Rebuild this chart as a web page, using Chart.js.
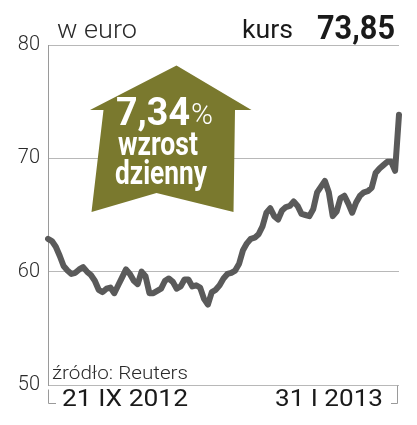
<!DOCTYPE html>
<html>
<head>
<meta charset="utf-8">
<script src="https://cdn.jsdelivr.net/npm/chart.js@4.4.1/dist/chart.umd.min.js"></script>
<style>
html,body{margin:0;padding:0;background:#fff;}
#wrap{width:417px;height:425px;position:relative;}
</style>
</head>
<body>
<div id="wrap"><canvas id="c" width="417" height="425"></canvas></div>
<script>
// Daily closing price, 21 IX 2012 – 31 I 2013 (EUR)
const prices = [
  62.9, 62.7, 62.2, 61.4, 60.5, 60.1, 59.8, 59.9, 60.2, 60.4,
  60.0, 59.7, 59.2, 58.4, 58.2, 58.5, 58.6, 58.1, 58.8, 59.5,
  60.2, 59.8, 59.2, 58.9, 60.0, 59.6, 58.1, 58.1, 58.3, 58.5,
  59.2, 59.4, 59.1, 58.5, 58.7, 59.3, 59.3, 58.7, 58.8, 58.6,
  57.6, 57.1, 58.2, 58.4, 58.8, 59.4, 59.8, 59.9, 60.1, 60.7,
  61.9, 62.5, 62.9, 63.0, 63.3, 64.0, 65.2, 65.6, 64.9, 64.6,
  65.4, 65.7, 65.8, 66.2, 65.8, 65.1, 65.0, 64.9, 65.5, 67.0,
  67.5, 68.0, 67.0, 64.9, 65.3, 66.5, 66.7, 66.0, 65.2, 66.1,
  66.7, 67.0, 67.1, 67.4, 68.7, 69.1, 69.4, 69.7, 69.7, 68.9,
  73.85
];
const dayIndex = prices.map((_, i) => i);
const yTicks = [50, 60, 70, 80];
const startLabel = "21 IX 2012";
const endLabel = "31 I 2013";
const unitLabel = "w euro";
const priceLabel = "kurs";
const priceValue = "73,85";
const changeValue = "7,34";
const changeLines = ["wzrost", "dzienny"];
const sourceLabel = "źródło: Reuters";

function fitText(ctx, text, x, y, w, font, color) {
  ctx.save();
  ctx.font = font;
  const m = ctx.measureText(text).width;
  ctx.translate(x, y);
  ctx.scale(w / m, 1);
  ctx.fillStyle = color;
  ctx.textBaseline = 'alphabetic';
  ctx.textAlign = 'left';
  ctx.fillText(text, 0, 0);
  ctx.restore();
}

const decor = {
  id: 'decor',
  afterDraw(chart) {
    const ctx = chart.ctx;
    const yS = chart.scales.y;
    const y50 = Math.round(yS.getPixelForValue(50)) + 0.5;
    ctx.save();
    // bottom bracket
    ctx.strokeStyle = '#9a9a9a';
    ctx.lineWidth = 1;
    ctx.beginPath();
    ctx.moveTo(48.5, y50 + 4); ctx.lineTo(48.5, 403.5); ctx.lineTo(56, 403.5);
    ctx.moveTo(397.5, y50); ctx.lineTo(397.5, 403.5); ctx.lineTo(391, 403.5);
    ctx.stroke();
    // arrow
    ctx.fillStyle = '#7a792e';
    ctx.beginPath();
    ctx.moveTo(176.5, 65.5);
    ctx.lineTo(251.5, 110);
    ctx.lineTo(235, 110);
    ctx.lineTo(233.5, 212);
    ctx.lineTo(156.5, 193);
    ctx.lineTo(91.5, 212);
    ctx.lineTo(103.5, 110);
    ctx.lineTo(90, 110);
    ctx.closePath();
    ctx.fill();
    ctx.restore();
    // arrow text
    fitText(ctx, changeValue, 116, 125, 74, 'bold 38px Roboto', '#ffffff');
    fitText(ctx, '%', 191, 124, 22, '300 30px Roboto', '#ffffff');
    fitText(ctx, changeLines[0], 118, 155, 80, 'bold 34px Roboto', '#ffffff');
    fitText(ctx, changeLines[1], 115, 184, 92, 'bold 34px Roboto', '#ffffff');
    // header
    fitText(ctx, unitLabel, 57, 38, 80, '300 25px Roboto', '#2a2a2a');
    fitText(ctx, priceLabel, 242, 38, 51, '25px Roboto', '#1a1a1a');
    fitText(ctx, priceValue, 317, 39, 78, 'bold 34px Roboto', '#1a1a1a');
    // source
    fitText(ctx, sourceLabel, 52, 379, 136, '300 19px Roboto', '#2a2a2a');
    // x labels
    fitText(ctx, startLabel, 62, 406, 126, '23px Roboto', '#1a1a1a');
    fitText(ctx, endLabel, 275, 406, 108, '23px Roboto', '#1a1a1a');
  }
};

new Chart(document.getElementById('c'), {
  type: 'line',
  data: {
    labels: dayIndex,
    datasets: [{
      data: prices,
      borderColor: '#5a5a5a',
      borderWidth: 6,
      pointRadius: 0,
      tension: 0,
      borderJoinStyle: 'round',
      borderCapStyle: 'round',
      fill: false
    }]
  },
  options: {
    responsive: false,
    animation: false,
    devicePixelRatio: 1,
    layout: { padding: { left: 0, right: 18, top: 45, bottom: 40 } },
    plugins: { legend: { display: false }, tooltip: { enabled: false } },
    scales: {
      x: { type: 'category', display: false, offset: false },
      y: {
        min: 50, max: 80,
        afterBuildTicks(scale) { scale.ticks = yTicks.map(v => ({ value: v })); },
        afterFit(scale) { scale.width = 48; },
        ticks: {
          padding: 8,
          color: '#2a2a2a',
          font: { family: 'Roboto', size: 20, weight: '300' },
          callback: v => String(v)
        },
        grid: { color: '#b8b8b8', lineWidth: 1, drawTicks: false },
        border: { display: true, color: '#9a9a9a', width: 1 }
      }
    }
  },
  plugins: [decor]
});
</script>
</body>
</html>
